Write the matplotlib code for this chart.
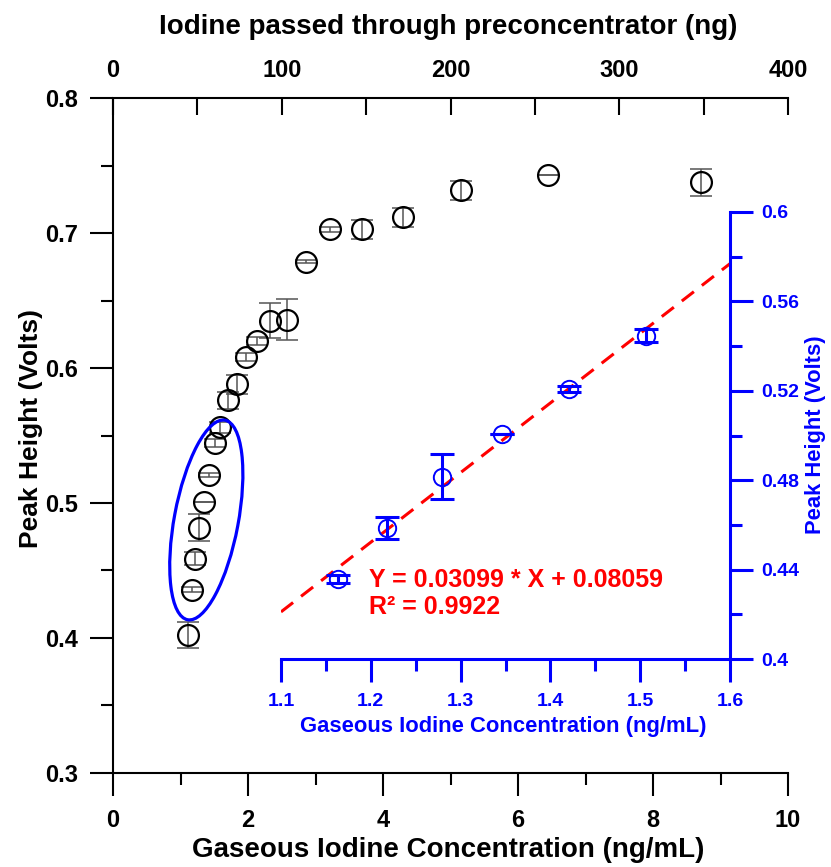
import numpy as np
import matplotlib
matplotlib.use("Agg")
import matplotlib.pyplot as plt
from matplotlib.patches import Ellipse
from matplotlib.ticker import MultipleLocator, FixedLocator, FormatStrFormatter
import matplotlib.transforms as mtransforms

plt.rcParams['font.family'] = ['Liberation Sans', 'DejaVu Sans']
plt.rcParams['font.weight'] = 'bold'

# Full response curve: gaseous iodine concentration vs peak height
conc = [1.106, 1.163, 1.2175, 1.2796, 1.3464, 1.421, 1.506, 1.585, 1.699, 1.832,
        1.97, 2.129, 2.326, 2.573, 2.855, 3.215, 3.684, 4.30, 5.156, 6.44, 8.711]
peak = [0.402, 0.4357, 0.4587, 0.4816, 0.5005, 0.5208, 0.5447, 0.556, 0.576, 0.588,
        0.608, 0.620, 0.635, 0.636, 0.679, 0.703, 0.703, 0.712, 0.732, 0.743, 0.738]
peak_err = [0.010, 0.0018, 0.0049, 0.0102, 0.0, 0.0014, 0.003, 0.004, 0.006, 0.007,
            0.003, 0.003, 0.013, 0.015, 0.001, 0.002, 0.007, 0.007, 0.007, 0.0, 0.010]

# Linear region (inset)
lin_conc = [1.163, 1.2175, 1.2796, 1.3464, 1.421, 1.506]
lin_peak = [0.4357, 0.4587, 0.4816, 0.5005, 0.5208, 0.5447]
lin_err = [0.0018, 0.0049, 0.0102, 0.0, 0.0014, 0.003]

fit_text = "Y = 0.03099 * X + 0.08059"
r2_text = "R\u00b2 = 0.9922"

ng_per_conc = 40.0  # iodine mass passed per unit concentration
ng_ticks = [0, 100, 200, 300, 400]
ng_minor = [50, 150, 250, 350]

BLUE = '#0000ff'
RED = '#ff0000'

fig = plt.figure(figsize=(8.31, 8.67), dpi=100)
ax = fig.add_axes([113/831, 1 - 772.5/867, 675/831, 674/867])

ax.errorbar(conc, peak, yerr=peak_err, fmt='none', ecolor='#555555',
            elinewidth=1.1, capsize=8, capthick=1.1, zorder=2)
ax.plot(conc, peak, 'o', ms=15, mfc='none', mec='black', mew=1.6, zorder=3)

ax.set_xlim(0, 10)
ax.set_ylim(0.3, 0.8)
ax.xaxis.set_major_locator(MultipleLocator(2))
ax.xaxis.set_minor_locator(MultipleLocator(1))
ax.yaxis.set_major_locator(MultipleLocator(0.1))
ax.yaxis.set_minor_locator(MultipleLocator(0.05))
ax.yaxis.set_major_formatter(FormatStrFormatter('%.1f'))
ax.spines['right'].set_visible(False)
ax.spines['top'].set_visible(False)
for s in ('left', 'bottom'):
    ax.spines[s].set_linewidth(1.5)
ax.tick_params(which='major', direction='out', length=16.5, width=1.5,
               labelsize=17, pad=8.5)
ax.tick_params(which='minor', direction='out', length=8.5, width=1.5)
ax.tick_params(axis='x', which='major', pad=9.5)

ax.set_xlabel("Gaseous Iodine Concentration (ng/mL)", fontsize=20, fontweight='bold')
ax.xaxis.set_label_coords(0.496, -0.115)
ax.xaxis.label.set_va('center')
ax.set_ylabel("Peak Height (Volts)", fontsize=19, fontweight='bold')
ax.yaxis.set_label_coords(-0.122, 0.511)
ax.yaxis.label.set_va('center')

top = ax.secondary_xaxis('top', functions=(lambda x: x * ng_per_conc,
                                           lambda x: x / ng_per_conc))
top.xaxis.set_major_locator(FixedLocator(ng_ticks))
top.xaxis.set_minor_locator(FixedLocator(ng_minor))
top.spines['top'].set_linewidth(1.5)
top.tick_params(which='both', direction='in', length=12, width=1.5,
                labelsize=17, pad=12)
ax.text(0.496, 1.106, "Iodine passed through preconcentrator (ng)",
        transform=ax.transAxes, fontsize=20, fontweight='bold',
        ha='center', va='center')

# Ellipse marking the linear region (size in inches, centred in data coords)
cx, cy = np.mean(lin_conc) + 0.06, np.mean(lin_peak) - 0.003
ell_tr = fig.dpi_scale_trans + mtransforms.ScaledTranslation(cx, cy, ax.transData)
ax.add_patch(Ellipse((0, 0), width=2.03, height=0.64, angle=79.4,
                     fill=False, ec=BLUE, lw=2.3, transform=ell_tr, zorder=4))

# Inset: linear calibration
ins = fig.add_axes([281/831, 1 - 659/867, 449/831, 447/867])
ins.patch.set_visible(False)
ins.errorbar(lin_conc, lin_peak, yerr=lin_err, fmt='none', ecolor=BLUE,
             elinewidth=2.2, capsize=8.5, capthick=2.2, zorder=2)
ins.plot(lin_conc, lin_peak, 'o', ms=12.5, mfc='none', mec=BLUE, mew=1.4, zorder=3)

slope, icpt = np.polyfit(lin_conc, lin_peak, 1)
xf = np.array([1.1, 1.6])
ins.plot(xf, slope * xf + icpt, color=RED, lw=2.2, dashes=(5, 3.3), zorder=1)

ins.set_xlim(1.1, 1.6)
ins.set_ylim(0.4, 0.6)
ins.xaxis.set_major_locator(MultipleLocator(0.1))
ins.xaxis.set_minor_locator(MultipleLocator(0.05))
ins.yaxis.set_major_locator(MultipleLocator(0.04))
ins.yaxis.set_minor_locator(MultipleLocator(0.02))
ins.yaxis.set_major_formatter(FormatStrFormatter('%g'))
ins.xaxis.set_major_formatter(FormatStrFormatter('%g'))
ins.yaxis.tick_right()
ins.yaxis.set_label_position('right')
ins.spines['left'].set_visible(False)
ins.spines['top'].set_visible(False)
for s in ('right', 'bottom'):
    ins.spines[s].set_color(BLUE)
    ins.spines[s].set_linewidth(2.2)
ins.tick_params(which='major', direction='out', length=16.5, width=2.2,
                colors=BLUE, labelsize=14, pad=6)
ins.tick_params(which='minor', direction='out', length=8.5, width=2.2, colors=BLUE)
ins.tick_params(axis='x', which='major', pad=8)
ins.set_xlabel("Gaseous Iodine Concentration (ng/mL)", fontsize=15.8,
               fontweight='bold', color=BLUE)
ins.xaxis.set_label_coords(0.494, -0.152)
ins.xaxis.label.set_va('center')
ins.set_ylabel("Peak Height (Volts)", fontsize=15.8, fontweight='bold', color=BLUE)
ins.yaxis.set_label_coords(1.1915, 0.501)
ins.yaxis.label.set_va('center')

ins.text(0.196, 0.1767, fit_text, transform=ins.transAxes, color=RED,
         fontsize=18, fontweight='bold', va='center', ha='left')
ins.text(0.196, 0.1163, r2_text, transform=ins.transAxes, color=RED,
         fontsize=18, fontweight='bold', va='center', ha='left')

fig.savefig("out.png", dpi=100)
